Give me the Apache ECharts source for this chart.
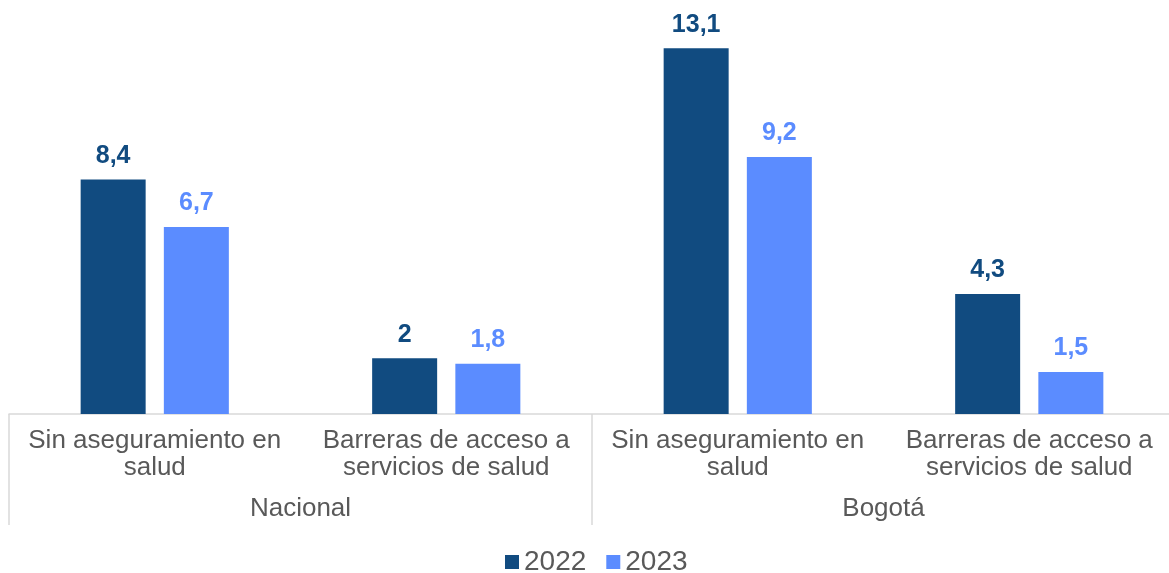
<!DOCTYPE html>
<html><head><meta charset="utf-8">
<script src="https://cdn.jsdelivr.net/npm/echarts@6/dist/echarts.min.js"></script>
<style>html,body{margin:0;padding:0;background:#fff;overflow:hidden;width:1169px;height:573px}#c{width:1180px;height:573px}</style>
</head><body><div id="c"></div>
<script>
var categories = ['Sin aseguramiento en\nsalud', 'Barreras de acceso a\nservicios de salud', 'Sin aseguramiento en\nsalud', 'Barreras de acceso a\nservicios de salud'];
var groups = ['Nacional', 'Bogotá'];
var seriesNames = ['2022', '2023'];
var values2022 = [8.4, 2, 13.1, 4.3];
var values2023 = [6.7, 1.8, 9.2, 1.5];
var colors = ['#114B80', '#5B8CFF'];

var FONT = 'Liberation Sans, Arial, Helvetica, sans-serif';
var chart = echarts.init(document.getElementById('c'));
var fmt = function (p) { return String(p.value).replace('.', ','); };
function mk(name, data, color) {
  return {
    name: name, type: 'bar', data: data, barWidth: 65, barGap: '28%',
    itemStyle: { color: color },
    label: { show: true, position: 'top', distance: 11, formatter: fmt, color: color,
      fontFamily: FONT, fontWeight: 'bold', fontSize: 25 }
  };
}
chart.setOption({
  animation: false,
  grid: { left: 9, top: 23, width: 1166, height: 391 },
  legend: {
    data: seriesNames, top: 543, left: 500, itemWidth: 14, itemHeight: 14, itemGap: 20,
    icon: 'rect',
    textStyle: { color: '#595959', fontSize: 28, fontFamily: FONT }
  },
  xAxis: [
    { type: 'category', data: categories, position: 'bottom',
      axisLine: { show: true, lineStyle: { color: '#d9d9d9', width: 1.5 } },
      axisTick: { show: false },
      axisLabel: { interval: 0, margin: 13, color: '#595959', fontSize: 26, lineHeight: 27,
        fontFamily: FONT } },
    { type: 'category', data: groups, position: 'bottom',
      axisLine: { show: false },
      axisTick: { show: true, interval: 0, length: 111, lineStyle: { color: '#d9d9d9', width: 1.5 } },
      axisLabel: { interval: 0, margin: 82, color: '#595959', fontSize: 26,
        fontFamily: FONT } }
  ],
  yAxis: { type: 'value', min: 0, max: 14, show: false, splitLine: { show: false } },
  series: [mk(seriesNames[0], values2022, colors[0]), mk(seriesNames[1], values2023, colors[1])]
});
</script></body></html>
